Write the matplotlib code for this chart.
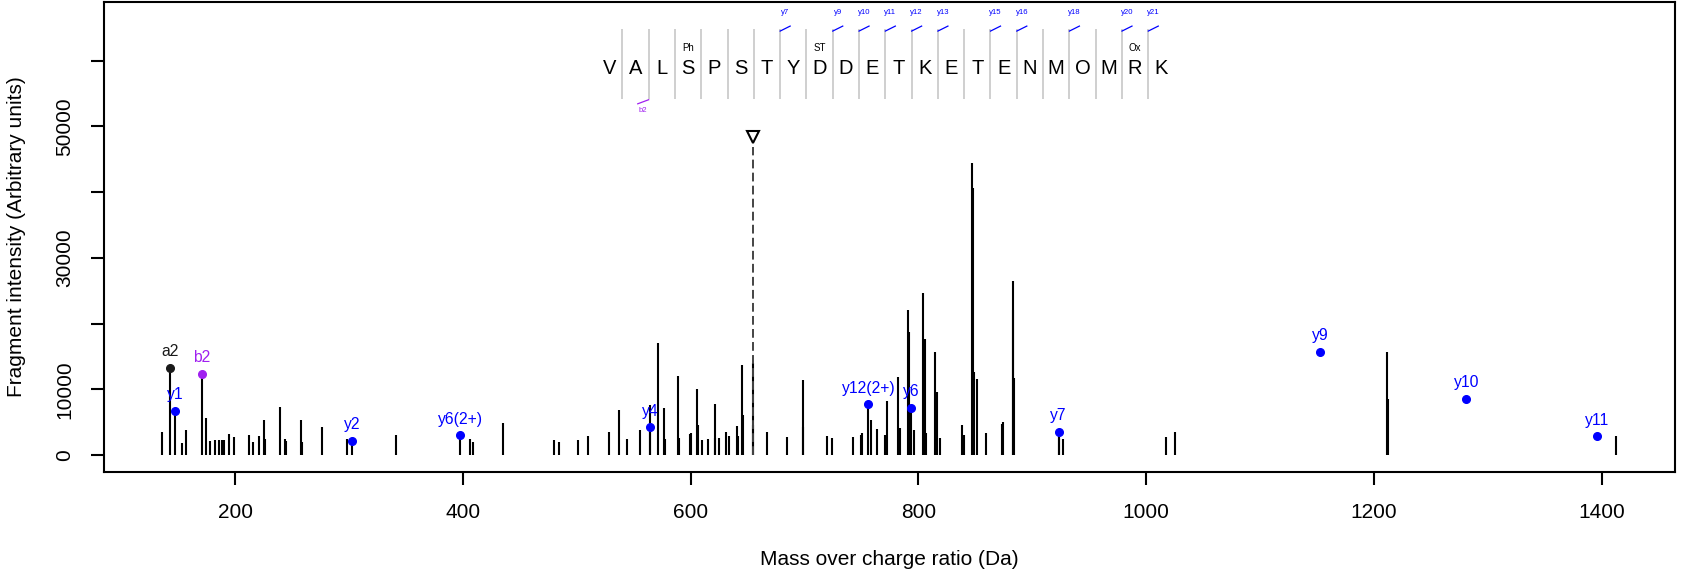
import matplotlib
matplotlib.use("Agg")
import matplotlib.pyplot as plt
import numpy as np

plt.rcParams["font.family"] = ["Liberation Sans", "DejaVu Sans"]

# peak list (m/z, intensity)
peak_mz = [135.9, 142.9, 147.1, 153.2, 157.0, 171.0, 174.8, 178.0, 182.4, 186.0,
           188.3, 190.3, 194.7, 198.8, 212.6, 215.5, 220.8, 225.2, 226.3, 239.8,
           243.9, 245.1, 258.0, 259.1, 276.1, 298.1, 303.0, 341.1, 397.6, 406.6,
           409.0, 435.3, 480.1, 484.5, 501.2, 509.9, 528.4, 536.9, 544.2, 556.0,
           564.2, 564.5, 571.1, 576.8, 578.0, 589.0, 589.5, 599.3, 600.0, 605.3,
           606.7, 610.0, 615.3, 621.5, 621.9, 625.0, 631.1, 633.8, 641.0, 641.5,
           645.4, 645.9, 654.6, 655.2, 666.8, 684.3, 698.6, 698.9, 720.0, 724.2,
           743.1, 749.7, 750.5, 756.2, 758.8, 764.1, 771.1, 772.9, 782.1, 783.7,
           790.6, 791.6, 793.9, 796.0, 804.5, 805.9, 806.5, 815.1, 816.1, 818.8,
           838.3, 839.8, 847.3, 848.1, 849.1, 851.2, 859.3, 873.6, 874.2, 882.9,
           883.5, 883.9, 923.2, 923.6, 926.7, 1017.2, 1025.1, 1211.5, 1212.4, 1413.1]
peak_int = [3450, 13190, 6740, 1780, 3750, 12320, 5680, 2130, 2230, 2230,
            2230, 2230, 3190, 2740, 3090, 2030, 2890, 5270, 2380, 7350,
            2380, 2180, 5320, 1980, 4310, 2480, 2130, 2990, 2990, 2480,
            1980, 4870, 2230, 1980, 2280, 2840, 3450, 6840, 2380, 3750,
            7600, 4210, 16980, 7100, 2380, 12000, 2600, 3190, 3300, 9990,
            4500, 2280, 2400, 7700, 2600, 2640, 3520, 2890, 4430, 2900,
            13690, 6100, 14040, 4500, 3470, 2740, 11400, 4300, 2820, 2540,
            2700, 3040, 3400, 7700, 5320, 3900, 3040, 8210, 11930, 4060,
            22100, 18760, 7200, 3800, 24600, 17640, 3300, 15700, 9530, 2540,
            4560, 3040, 44400, 40660, 12570, 11600, 3400, 4700, 5020, 26540,
            22050, 11660, 3500, 3000, 2380, 2790, 3500, 15720, 8570, 2940]

# annotated fragment ions
ion_labels = ["a2", "y1", "b2", "y2", "y6(2+)", "y4", "y12(2+)", "y6", "y7", "y9", "y10", "y11"]
ion_types = ["a", "y", "b", "y", "y", "y", "y", "y", "y", "y", "y", "y"]
ion_mz = [142.9, 147.1, 171.0, 303.0, 397.6, 564.5, 756.2, 793.9, 923.2, 1152.7, 1281.4, 1396.4]
ion_int = [13190, 6740, 12320, 2130, 2990, 4210, 7700, 7200, 3500, 15720, 8520, 2840]

precursor_mz = 654.6
precursor_int = 48330

# peptide sequence and fragment coverage
residues = list("VALSPSTYDDETKETENMOMRK")
mods = {4: "Ph", 9: "ST", 21: "Ox"}
y_sites = [7, 9, 10, 11, 12, 13, 15, 16, 18, 20, 21]
b_sites = [2]

ion_colours = {"a": "#1a1a1a", "b": "#A020F0", "y": "#0000FF"}

fig = plt.figure(figsize=(16.85, 5.79), dpi=100)
ax = fig.add_axes([0.0619, 0.1855, 0.994 - 0.0619, 0.9965 - 0.1855])
ax.set_xlim(85.2, 1464.4)
ax.set_ylim(-2527, 68900)

# spectrum
ax.vlines(peak_mz, 0, peak_int, color="black", lw=1.5)

# precursor
ax.plot([precursor_mz, precursor_mz], [0, precursor_int - 1500], color="#444444",
        lw=1.4, dashes=(4.5, 2.2))
ax.plot(precursor_mz, precursor_int, marker="v", ms=9, mfc="white", mec="black", mew=1.5)

# matched ions
for lab, t, mz, it in zip(ion_labels, ion_types, ion_mz, ion_int):
    c = ion_colours[t]
    ax.plot(mz, it, "o", color=c, ms=5.5)
    ax.annotate(lab, (mz, it), xytext=(0, 8.5), textcoords="offset points",
                ha="center", va="baseline", color=c, fontsize=11.3)

# sequence panel
step = 23.09
x0 = 528.6
seq_y = 58860
sep_top, sep_bot = 64840, 54190
for i, r in enumerate(residues):
    xc = x0 + i * step
    ax.text(xc, seq_y, r, ha="center", va="center", fontsize=14.5)
    if (i + 1) in mods:
        ax.text(xc, 61850, mods[i + 1], ha="center", va="center", fontsize=7)
for k in range(1, len(residues)):
    xs = x0 + (k - 0.5) * step
    ax.plot([xs, xs], [sep_bot, sep_top], color="#CCCCCC", lw=1.3, solid_capstyle="butt")
for k in y_sites:
    xs = x0 + (k - 0.5) * step
    ax.plot([xs, xs + 8.8], [64480, 65240], color="#0000FF", lw=0.9)
    ax.text(xs + 4.4, 67320, "y%d" % k, ha="center", va="center", fontsize=5.6, color="#0000FF")
for k in b_sites:
    xs = x0 + (k - 0.5) * step
    ax.plot([xs - 9.6, xs], [53420, 54040], color="#A020F0", lw=0.9)
    ax.text(xs - 5.3, 52360, "b%d" % k, ha="center", va="center", fontsize=5.6, color="#A020F0")

# axes styling (R-like)
ax.set_xticks([200, 400, 600, 800, 1000, 1200, 1400])
ax.set_yticks([0, 10000, 20000, 30000, 40000, 50000, 60000])
ax.set_yticklabels(["0", "10000", "", "30000", "", "50000", ""], rotation=90, va="center")
ax.tick_params(axis="both", length=9.4, width=1.5, labelsize=15)
ax.tick_params(axis="x", pad=13)
ax.tick_params(axis="y", pad=12)
for s in ax.spines.values():
    s.set_linewidth(1.5)

ax.set_xlabel("Mass over charge ratio (Da)", fontsize=15, va="center")
ax.xaxis.set_label_coords(0.5, -0.188)
ax.set_ylabel("Fragment intensity (Arbitrary units)", fontsize=15, va="center")
ax.yaxis.set_label_coords(-0.0559, 0.5)

fig.savefig("out.png", dpi=100)
